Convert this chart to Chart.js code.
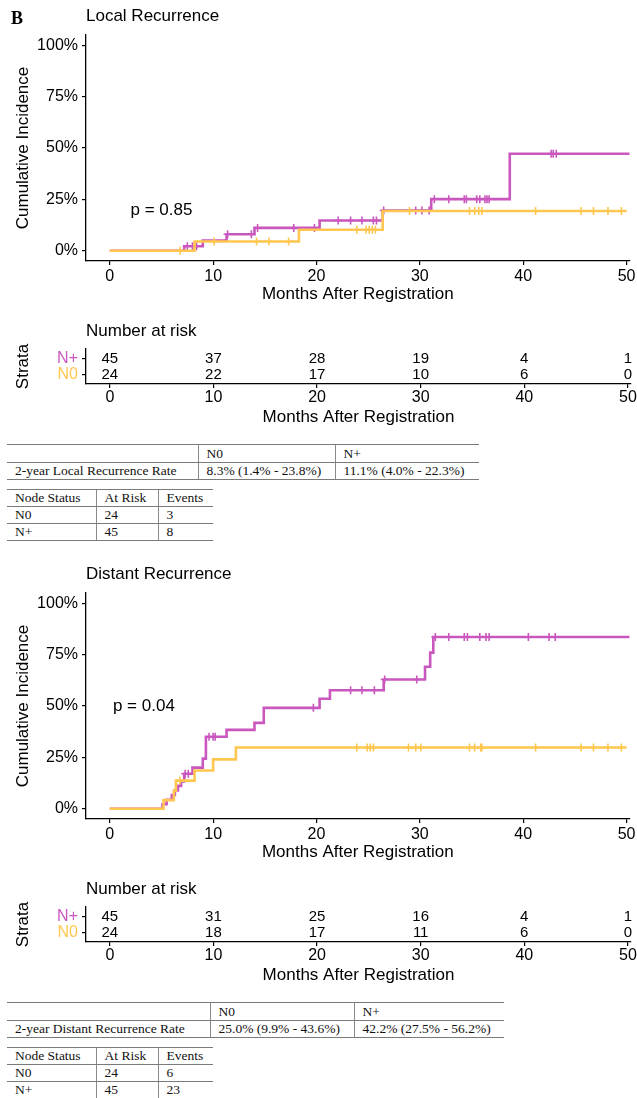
<!DOCTYPE html>
<html lang="en">
<head>
<meta charset="UTF-8">
<title>Local and Distant Recurrence by Node Status</title>
<script src="https://cdn.jsdelivr.net/npm/chart.js"></script>
<style>
  body { margin: 0; background: #fff; }
  #page { position: relative; width: 637px; height: 1098px; overflow: hidden; }
  canvas, table { position: absolute; }
  table { border-collapse: collapse; table-layout: fixed; font-family: "Liberation Serif", "Times New Roman", serif; font-size: 13.5px; color: #111; }
  td { padding: 0 0 0 8px; border-top: 1.5px solid #7a7a7a; border-bottom: 1.5px solid #7a7a7a; white-space: nowrap; overflow: hidden; }
  td + td { border-left: 1px solid #8a8a8a; }
</style>
</head>
<body>
<div id="page"></div>
<script>
// ---- values ----
const months = [0, 10, 20, 30, 40, 50];
const pctTicks = [0, 25, 50, 75, 100];
const strata = ["N0", "N+"];

// Local recurrence, step times (months) and cumulative incidence (%)
const localN0Time = [0, 8.2, 18.3, 26.4, 50.0];
const localN0CI   = [0, 4.5, 10.2, 19.3, 19.3];
const localNpTime = [0, 7.2, 9.0, 11.3, 14.0, 20.3, 26.4, 31.1, 38.7, 50.3];
const localNpCI   = [0, 2.2, 5.0, 8.0, 11.1, 14.7, 19.6, 25.1, 47.2, 47.2];
const localN0Cens = [6.8, 10.1, 14.2, 15.4, 17.3, 23.9, 24.8, 25.1, 25.4, 25.7, 29.0, 34.8, 35.3, 35.7, 36.0, 41.2, 45.6, 46.8, 48.2, 49.5];
const localNpCens = [7.5, 8.0, 8.4, 11.4, 13.7, 14.3, 17.8, 19.8, 22.1, 23.3, 24.4, 25.5, 25.8, 26.5, 29.6, 30.2, 30.9, 31.4, 32.8, 34.3, 34.5, 35.5, 35.8, 36.3, 36.5, 36.7, 42.7, 42.9, 43.2];

// Distant recurrence
const distN0Time = [0, 5.2, 6.2, 6.4, 8.2, 10.0, 12.2, 50.0];
const distN0CI   = [0, 4.2, 8.8, 13.7, 18.6, 24.0, 29.8, 29.8];
const distNpTime = [0, 5.1, 5.5, 6.0, 6.3, 6.6, 6.9, 7.2, 8.0, 9.0, 9.3, 11.3, 14.0, 14.9, 20.3, 21.3, 26.5, 30.5, 31.0, 31.3, 50.3];
const distNpCI   = [0, 2.2, 4.4, 6.7, 8.9, 11.1, 13.3, 17.0, 20.0, 24.4, 35.0, 38.4, 41.8, 49.1, 53.5, 57.7, 62.9, 69.1, 76.0, 83.6, 83.6];
const distN0Cens = [6.8, 23.9, 24.9, 25.2, 25.5, 28.9, 29.6, 30.1, 34.8, 35.3, 35.9, 36.0, 41.2, 45.6, 46.8, 48.2, 49.5];
const distNpCens = [7.3, 7.6, 9.6, 10.0, 10.2, 19.7, 23.3, 24.4, 25.6, 26.6, 29.7, 31.5, 32.8, 34.3, 34.6, 35.8, 36.4, 36.7, 40.5, 42.5, 43.1];

// Number at risk
const localRiskN0 = [24, 22, 17, 10, 6, 0];
const localRiskNp = [45, 37, 28, 19, 4, 1];
const distRiskN0  = [24, 18, 17, 11, 6, 0];
const distRiskNp  = [45, 31, 25, 16, 4, 1];

// Summary tables
const rateHeader = ["", "N0", "N+"];
const localRate = ["2-year Local Recurrence Rate", "8.3% (1.4% - 23.8%)", "11.1% (4.0% - 22.3%)"];
const distRate  = ["2-year Distant Recurrence Rate", "25.0% (9.9% - 43.6%)", "42.2% (27.5% - 56.2%)"];
const eventHeader = ["Node Status", "At Risk", "Events"];
const localEvents = [["N0", "24", "3"], ["N+", "45", "8"]];
const distEvents  = [["N0", "24", "6"], ["N+", "45", "23"]];

const MAGENTA = "#C957BE";
const YELLOW = "#FFC74F";
const SANS = "'Liberation Sans', Arial, sans-serif";
Chart.defaults.font.family = SANS;
Chart.defaults.color = "#000";

const page = document.getElementById("page");

function stepValue(times, values, t) {
  let v = values[0];
  for (let i = 0; i < times.length; i++) if (times[i] <= t) v = values[i];
  return v;
}

// draws free text; items with data:true are placed through the chart's scales
const textPlugin = {
  id: "panelText",
  afterDraw(chart, args, opts) {
    const ctx = chart.ctx;
    (opts.items || []).forEach(it => {
      ctx.save();
      ctx.font = it.font;
      ctx.fillStyle = it.color || "#000";
      ctx.textAlign = it.align || "left";
      ctx.textBaseline = "middle";
      let x = it.x, y = it.y;
      if (it.data) {
        x = chart.scales.x.getPixelForValue(it.x);
        y = chart.scales.y.getPixelForValue(it.y);
      }
      ctx.fillText(it.text, x, y);
      ctx.restore();
    });
  }
};

function makeCanvas(top, height) {
  const c = document.createElement("canvas");
  c.width = 637; c.height = height;
  c.style.left = "0px"; c.style.top = top + "px";
  c.style.width = "637px"; c.style.height = height + "px";
  page.appendChild(c);
  return c;
}

const axisGrid = { drawOnChartArea: false, drawTicks: true, tickLength: 4, color: "#000", lineWidth: 1.2 };
const axisBorder = { display: true, color: "#000", width: 1.3 };

function xAxis(height, tickPad, titlePadBottom) {
  return {
    type: "linear", min: -2.3, max: 50.3,
    afterBuildTicks: s => { s.ticks = months.map(v => ({ value: v })); },
    afterFit: s => { s.height = height; },
    ticks: { font: { size: 16 }, padding: tickPad, maxRotation: 0, autoSkip: false, callback: v => String(v) },
    grid: axisGrid, border: axisBorder,
    title: { display: true, text: "Months After Registration", font: { size: 17 }, padding: { top: 0, bottom: titlePadBottom } }
  };
}

function curveChart(top, p) {
  const c = makeCanvas(top, 305);
  const line = (times, vals, color, order) => ({
    data: times.map((t, i) => ({ x: t, y: vals[i] })),
    stepped: true, borderColor: color, borderWidth: 2.6, pointRadius: 0, fill: false, order: order
  });
  const cens = (ts, times, vals, color, order) => ({
    data: ts.map(t => ({ x: t, y: stepValue(times, vals, t) })),
    showLine: false, pointStyle: "cross", pointRadius: 4, pointBorderWidth: 1.6,
    pointBorderColor: color, borderColor: color, order: order
  });
  new Chart(c, {
    type: "line",
    data: {
      datasets: [
        line(p.npTime, p.npCI, MAGENTA, 3),
        cens(p.npCens, p.npTime, p.npCI, MAGENTA, 2),
        line(p.n0Time, p.n0CI, YELLOW, 1),
        cens(p.n0Cens, p.n0Time, p.n0CI, YELLOW, 0)
      ]
    },
    options: {
      responsive: false, animation: false,
      layout: { padding: { top: 35, right: 6, left: 0, bottom: 0 } },
      plugins: {
        legend: { display: false }, tooltip: { enabled: false },
        panelText: { items: [
          ...(p.letter ? [{ text: p.letter, x: 11, y: 19, font: "bold 18px 'Liberation Serif', serif" }] : []),
          { text: p.title, x: 86, y: 16, font: "17px " + SANS },
          { text: p.pText, x: p.pAt[0], y: p.pAt[1], data: true, align: "center", font: "17px " + SANS }
        ] }
      },
      scales: {
        x: xAxis(44, 1.5, 0),
        y: {
          type: "linear", min: -5, max: 105,
          afterBuildTicks: s => { s.ticks = pctTicks.map(v => ({ value: v })); },
          afterFit: s => { s.width = 86; },
          ticks: { font: { size: 16 }, padding: 4, callback: v => v + "%" },
          grid: axisGrid, border: axisBorder,
          title: { display: true, text: "Cumulative Incidence", font: { size: 17 }, padding: { top: 13, bottom: 0 } }
        }
      }
    },
    plugins: [textPlugin]
  });
}

function riskChart(top, n0, np) {
  const c = makeCanvas(top, 117);
  const items = [{ text: "Number at risk", x: 86, y: 11, font: "17px " + SANS }];
  months.forEach((m, i) => {
    items.push({ text: String(np[i]), x: m, y: 2, data: true, align: "center", font: "15px " + SANS });
    items.push({ text: String(n0[i]), x: m, y: 1, data: true, align: "center", font: "15px " + SANS });
  });
  new Chart(c, {
    type: "scatter",
    data: { datasets: [{ data: [] }] },
    options: {
      responsive: false, animation: false,
      layout: { padding: { top: 29, right: 6, left: 0, bottom: 0 } },
      plugins: { legend: { display: false }, tooltip: { enabled: false }, panelText: { items: items } },
      scales: {
        x: xAxis(53, 0, 9),
        y: {
          type: "linear", min: 0.4, max: 2.6,
          afterBuildTicks: s => { s.ticks = [{ value: 1 }, { value: 2 }]; },
          afterFit: s => { s.width = 86; },
          ticks: {
            font: { size: 16 }, padding: 4,
            callback: v => strata[v - 1],
            color: ctx => (ctx.tick && ctx.tick.value === 2) ? MAGENTA : YELLOW
          },
          grid: axisGrid, border: axisBorder,
          title: { display: true, text: "Strata", font: { size: 17 }, padding: { top: 13, bottom: 0 } }
        }
      }
    },
    plugins: [textPlugin]
  });
}

function table(top, widths, heights, rows) {
  const t = document.createElement("table");
  t.style.left = "7px"; t.style.top = top + "px";
  t.style.width = widths.reduce((a, b) => a + b, 0) + "px";
  let html = "<colgroup>" + widths.map(w => `<col style="width:${w}px">`).join("") + "</colgroup>";
  rows.forEach((r, i) => {
    html += `<tr style="height:${heights[i]}px">` + r.map(v => `<td>${v}</td>`).join("") + "</tr>";
  });
  t.innerHTML = html;
  page.appendChild(t);
}

function panel(off, p) {
  curveChart(off, p);
  riskChart(off + 320, p.riskN0, p.riskNp);
  table(off + 444, p.rateWidths, [18, 17], [rateHeader, p.rate]);
  table(off + 489, [89, 62, 55], [16, 17, 17], [eventHeader, ...p.events]);
}

panel(0, {
  letter: "B", title: "Local Recurrence", pText: "p = 0.85", pAt: [5.0, 19.5],
  n0Time: localN0Time, n0CI: localN0CI, npTime: localNpTime, npCI: localNpCI,
  n0Cens: localN0Cens, npCens: localNpCens,
  riskN0: localRiskN0, riskNp: localRiskNp,
  rate: localRate, rateWidths: [191, 137, 144], events: localEvents
});

panel(558, {
  letter: "", title: "Distant Recurrence", pText: "p = 0.04", pAt: [3.3, 50],
  n0Time: distN0Time, n0CI: distN0CI, npTime: distNpTime, npCI: distNpCI,
  n0Cens: distN0Cens, npCens: distNpCens,
  riskN0: distRiskN0, riskNp: distRiskNp,
  rate: distRate, rateWidths: [203, 144, 150], events: distEvents
});
</script>
</body>
</html>
